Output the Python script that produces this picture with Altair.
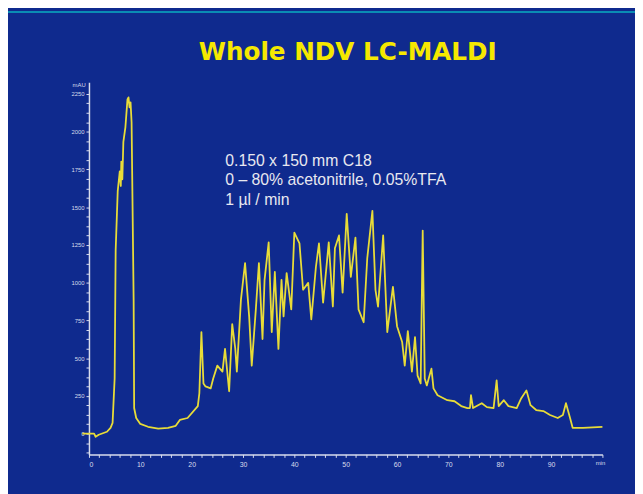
import altair as alt
import pandas as pd

# Retention time (min) and signal (mAU)
time_min = [-1.3, 1.0, 1.3, 1.9, 3.5, 4.2, 4.6, 5.0, 5.2, 5.6, 6.0, 6.2, 6.3, 6.5, 6.7, 7.1, 7.5, 7.7, 7.9, 8.1,
            8.3, 8.7, 8.8, 9.2, 10.0, 11.5, 13.5, 15.4, 16.9, 17.7, 19.2, 21.2, 21.5, 21.9, 22.3, 22.7, 23.7, 24.2,
            25.0, 26.0, 26.5, 27.3, 27.9, 28.5, 28.8, 29.6, 30.4, 31.2, 31.7, 32.5, 33.1, 33.8, 34.2, 35.0, 35.6,
            36.2, 36.9, 37.5, 37.9, 38.5, 39.4, 40.0, 41.0, 41.7, 42.7, 43.3, 44.2, 44.8, 45.6, 46.7, 47.5, 47.9,
            48.7, 49.4, 50.2, 51.0, 51.9, 52.5, 53.5, 54.2, 55.2, 55.8, 56.3, 57.3, 58.1, 59.2, 60.0, 61.0, 61.5,
            62.1, 62.9, 63.5, 64.0, 64.6, 65.0, 65.4, 65.8, 66.7, 67.1, 67.9, 69.8, 71.2, 72.5, 73.7, 74.2, 74.4,
            74.8, 76.5, 77.5, 78.8, 79.4, 79.8, 80.8, 81.7, 83.3, 84.2, 85.2, 86.0, 87.1, 88.5, 89.8, 91.3, 92.3,
            92.9, 93.7, 94.2, 96.2, 100.0]
signal = [0, 0, -20, -7, 13, 39, 72, 366, 1215, 1606, 1737, 1640, 1802, 1685, 1933, 2031, 2214, 2227, 2161, 2194,
          2063, 888, 170, 104, 65, 46, 33, 39, 52, 91, 104, 183, 268, 673, 333, 313, 300, 366,
          451, 411, 562, 281, 725, 562, 411, 888, 1130, 777, 451, 823, 1130, 627, 1019, 1267, 673,
          1071, 562, 1019, 777, 1064, 823, 1332, 1260, 953, 999, 757, 1104, 1260, 868, 1267, 842, 1228,
          1313, 934, 1456, 1038, 1299, 823, 738, 1162, 1476, 953, 842, 1313, 673, 973, 712, 607, 451,
          679, 411, 640, 385, 333, 1345, 366, 320, 431, 300, 255, 222, 215, 183, 170, 170, 255,
          170, 202, 176, 170, 353, 183, 222, 183, 170, 235, 287, 189, 157, 150, 124, 104, 124,
          202, 104, 39, 39, 46]

x_ticks = [i * 2 for i in range(0, 51)]
y_ticks = [i * 62.5 for i in range(-2, 37)]

title_text = ["Whole NDV LC-MALDI"]
note_lines = ["0.150 x 150 mm C18", "0 \u2013 80% acetonitrile, 0.05%TFA", "1 \u00b5l / min"]
unit_labels = ["mAU", "min"]

BLUE = "#0f2a8e"
TEAL = "#0a8cb4"
YELLOW = "#e8dc38"
AXIS = "#d8dcec"

df = pd.DataFrame({"t": time_min, "s": signal})

x_scale = alt.Scale(domain=[0, 100], nice=False, zero=False)
y_scale = alt.Scale(domain=[-137, 2328], nice=False, zero=False)

trace = alt.Chart(df).mark_line(color=YELLOW, strokeWidth=1.8, strokeJoin="round").encode(
    x=alt.X("t:Q", scale=x_scale,
            axis=alt.Axis(values=x_ticks, title=None, grid=False, domainColor=AXIS, domainWidth=1.5,
                          tickColor=AXIS, tickSize=3, labelColor=AXIS, labelFontSize=7,
                          labelFont="Liberation Sans", labelPadding=3,
                          labelExpr="datum.value % 10 == 0 && datum.value < 100 ? datum.label : ''")),
    y=alt.Y("s:Q", scale=y_scale,
            axis=alt.Axis(values=y_ticks, title=None, grid=False, domainColor=AXIS, domainWidth=1.5,
                          tickColor=AXIS, tickSize=3, labelColor=AXIS, labelFontSize=6,
                          labelFont="Liberation Sans", labelPadding=2,
                          labelExpr="datum.value % 250 == 0 && datum.value >= 0 ? replace(datum.label, ',', '') : ''")),
)

top_strip = alt.Chart(pd.DataFrame({"a": [0]})).mark_rule(color=TEAL, strokeWidth=2).encode(
    x=alt.value(-82), x2=alt.value(553), y=alt.value(-71)
)

title = alt.Chart(pd.DataFrame({"t": title_text})).mark_text(
    font="DejaVu Sans", fontSize=25, fontWeight="bold", color="#f5e800", align="center", baseline="alphabetic"
).encode(x=alt.value(262), y=alt.value(-22), text="t:N")

notes = alt.Chart(pd.DataFrame({"t": note_lines, "px": [138, 138, 138], "py": [85, 104, 124]})).mark_text(
    font="Liberation Sans", fontSize=16, color="#e8e8f0", align="left", baseline="alphabetic"
).encode(
    x=alt.X("px:Q", scale=None),
    y=alt.Y("py:Q", scale=None),
    text="t:N",
)

units = alt.Chart(pd.DataFrame({"t": unit_labels, "px": [-10, 518], "py": [3, 386]})).mark_text(
    font="Liberation Sans", fontSize=6, color=AXIS, align="center", baseline="middle"
).encode(
    x=alt.X("px:Q", scale=None),
    y=alt.Y("py:Q", scale=None),
    text="t:N",
)

chart = alt.layer(top_strip, trace, title, notes, units).resolve_scale(x="independent", y="independent").properties(
    width=520, height=377,
    background=BLUE,
    padding={"left": 82, "top": 72, "right": 33, "bottom": 37},
    autosize=alt.AutoSizeParams(type="none"),
).configure_view(stroke=None)

chart.save("out.html", embed_options={"renderer": "svg", "actions": False})
